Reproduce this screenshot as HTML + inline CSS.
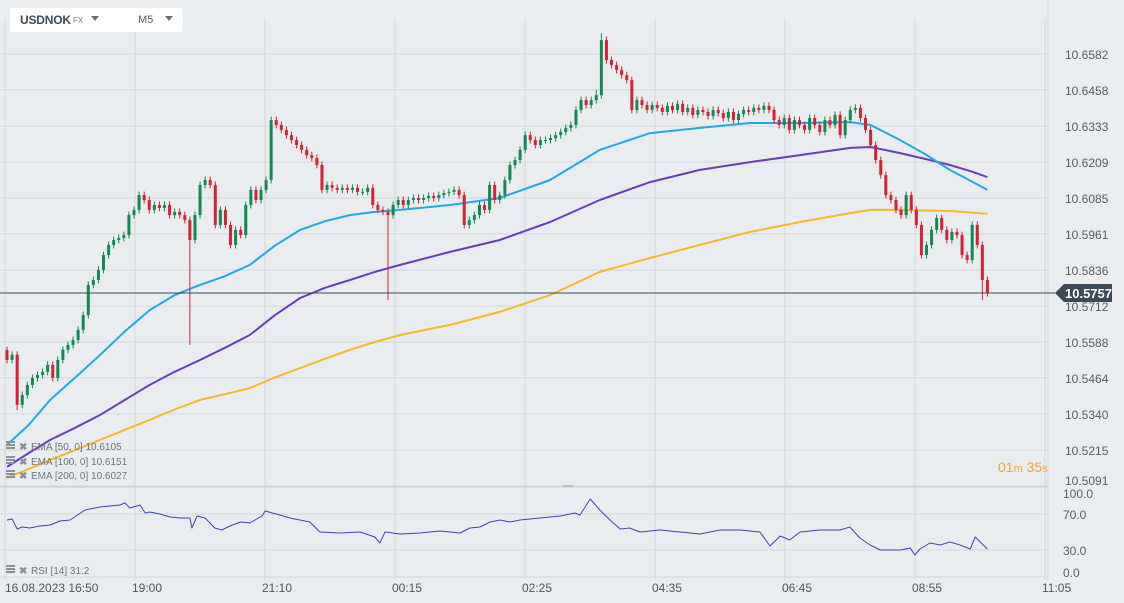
<!DOCTYPE html>
<html><head><meta charset="utf-8"><style>
body{margin:0;background:#eaedf0;font-family:"Liberation Sans",sans-serif;}
#wrap{position:relative;width:1124px;height:603px;overflow:hidden;background:#eaedf0}
svg text{font-family:"Liberation Sans",sans-serif}
</style></head><body>
<div id="wrap">
<svg id="chart" width="1124" height="603"></svg>
<div style="position:absolute;left:10px;top:8px;width:173px;height:24px;background:#fff;border-radius:3px;">
 <span style="position:absolute;left:10px;top:5px;font-weight:bold;font-size:12px;letter-spacing:-0.2px;color:#3e4a55">USDNOK</span>
 <span style="position:absolute;left:63px;top:8px;font-size:8px;color:#7a838c">FX</span>
 <span style="position:absolute;left:81px;top:8px;width:0;height:0;border-left:4px solid transparent;border-right:4px solid transparent;border-top:5px solid #6b747c"></span>
 <span style="position:absolute;left:128px;top:6px;font-size:11px;color:#5b6570">M5</span>
 <span style="position:absolute;left:155px;top:8px;width:0;height:0;border-left:4px solid transparent;border-right:4px solid transparent;border-top:5px solid #6b747c"></span>
</div>
</div>
<script>
const closes=[10.5526,10.5544,10.5371,10.5405,10.5440,10.5464,10.5474,10.5485,10.5509,10.5464,
10.5526,10.5561,10.5578,10.5595,10.5630,10.5681,10.5785,10.5802,10.5837,10.5888,
10.5923,10.5940,10.5947,10.5957,10.6026,10.6044,10.6095,10.6078,10.6044,10.6061,
10.6051,10.6061,10.6026,10.6037,10.6026,10.6009,10.5940,10.6026,10.6130,10.6147,
10.6130,10.5992,10.6044,10.5992,10.5923,10.5975,10.5957,10.6061,10.6113,10.6078,
10.6113,10.6147,10.6354,10.6337,10.6320,10.6302,10.6285,10.6268,10.6251,10.6233,
10.6223,10.6199,10.6113,10.6130,10.6120,10.6113,10.6120,10.6113,10.6120,10.6106,
10.6106,10.6120,10.6061,10.6044,10.6037,10.6026,10.6061,10.6078,10.6061,10.6078,
10.6085,10.6078,10.6085,10.6092,10.6085,10.6095,10.6102,10.6106,10.6113,10.6095,
10.5992,10.6009,10.6026,10.6061,10.6044,10.6130,10.6078,10.6095,10.6147,10.6199,
10.6216,10.6251,10.6302,10.6285,10.6268,10.6285,10.6285,10.6292,10.6302,10.6313,
10.6327,10.6337,10.6389,10.6423,10.6406,10.6423,10.6440,10.6630,10.6561,10.6544,
10.6527,10.6509,10.6492,10.6389,10.6423,10.6406,10.6389,10.6406,10.6396,10.6382,
10.6403,10.6389,10.6410,10.6382,10.6396,10.6372,10.6389,10.6382,10.6368,10.6389,
10.6378,10.6361,10.6382,10.6354,10.6375,10.6389,10.6382,10.6396,10.6389,10.6403,
10.6389,10.6354,10.6337,10.6361,10.6320,10.6354,10.6337,10.6320,10.6361,10.6337,
10.6313,10.6354,10.6337,10.6372,10.6302,10.6354,10.6389,10.6396,10.6361,10.6320,
10.6268,10.6216,10.6164,10.6095,10.6078,10.6044,10.6026,10.6095,10.6044,10.5992,
10.5888,10.5923,10.5975,10.6016,10.5975,10.5940,10.5968,10.5957,10.5888,10.5871,
10.5992,10.5923,10.5802,10.5757];
const firstOpen=10.5560;
const wickPad=0.0012;
const specialLowIdx=[2,36,75,192];
const specialLowVal=[10.5353,10.5578,10.5733,10.5733];
const specialHighIdx=[116,117];
const specialHighVal=[10.6458,10.6654];
const emaIdx=[0,4.3,8.5,13.4,18.3,23.2,28.1,33,38,42.9,47.8,52.7,57.7,62.6,67.5,72.4,77.4,87.2,97,106.9,116.7,126.6,136.4,146.3,156.1,166,170,175.8,180.7,185.6,189.6,193];
const ema50=[10.5233,10.5302,10.5388,10.5465,10.5543,10.5625,10.5698,10.5750,10.5785,10.5815,10.5854,10.5920,10.5975,10.6005,10.6026,10.6037,10.6044,10.6061,10.6085,10.6147,10.6251,10.6309,10.6327,10.6344,10.6344,10.6347,10.6337,10.6285,10.6237,10.6182,10.6145,10.6113];
const ema100=[10.5157,10.5205,10.5250,10.5292,10.5336,10.5388,10.5440,10.5485,10.5526,10.5568,10.5612,10.5680,10.5740,10.5775,10.5802,10.5830,10.5854,10.5899,10.5940,10.6002,10.6078,10.6140,10.6182,10.6209,10.6233,10.6258,10.6261,10.6240,10.6220,10.6199,10.6178,10.6157];
const ema200=[10.5119,10.5150,10.5181,10.5215,10.5250,10.5285,10.5319,10.5355,10.5388,10.5408,10.5429,10.5465,10.5498,10.5530,10.5561,10.5588,10.5612,10.5647,10.5692,10.5750,10.5830,10.5878,10.5923,10.5968,10.6002,10.6033,10.6044,10.6044,10.6042,10.6040,10.6035,10.6030];
const rsiIdx=[0,1,2,3,4.5,6.5,8.5,10.4,12.4,15.4,18.3,22.2,23.2,24.2,26.2,27.2,28.1,30.1,32.1,34.1,36,36.4,37.4,39,40.9,42.3,43.9,45.9,47.8,50.2,50.8,53.7,55.7,57.7,59.6,61.6,65.6,69.5,72.4,73.4,74.4,77.4,81.3,85.2,89.2,91.1,93.1,95.1,97,99,101,104.9,108.9,111.8,112.8,114.8,116.7,118.7,120.7,122.6,124.6,128.5,132.5,136.4,140.4,144.3,148.2,150.2,152.2,154.1,156.1,160,164,165.9,167.9,169.9,171.9,173.8,175.8,177.8,178.7,179.7,181.7,183.7,185.6,187.6,189.6,190.6,193];
const rsiVal=[63.3,64.4,53.3,55.6,54.4,56.7,57.8,62.2,63.3,74.4,77.8,80,82.2,76.7,80,71.1,72.2,70,66.7,65.6,65.6,54.4,67.8,65.6,54.4,52.2,56.7,61.1,60,67.8,73.3,68.9,65.6,63.3,61.1,50,48.9,50,44.4,37.8,50,47.8,48.9,51.1,48.9,54.4,55.6,61.1,63.3,61.1,63.3,65.6,67.8,71.1,68.9,86.7,74.4,63.3,53.3,54.4,50,52.2,50,47.8,52.2,52.2,50,34.4,45.6,41.1,50,52.2,52.2,55.6,43.3,35.6,30,30,30,32.2,24.4,31.1,37.8,35.6,38.9,35.6,31.1,44.4,31.1];
const priceTicks=[10.6582,10.6458,10.6333,10.6209,10.6085,10.5961,10.5836,10.5712,10.5588,10.5464,10.5340,10.5215,10.5091];
const rsiTicks=[100,70,30,0];
const rsiTickLabels=["100.0","70.0","30.0","0.0"];
const timeLabels=["16.08.2023  16:50","19:00","21:10","00:15","02:25","04:35","06:45","08:55","11:05"];
const lastPrice=10.5757;
const rsiLast=31.2;

const NS="http://www.w3.org/2000/svg";
const svg=document.getElementById('chart');
function el(t,a,p){const e=document.createElementNS(NS,t);for(const k in a)e.setAttribute(k,a[k]);(p||svg).appendChild(e);return e;}
const yP=p=>54+(10.6582-p)/0.012425*36;
const xI=i=>7+i*5.08;
const yR=v=>577-v*0.9;
for(let k=0;k<9;k++){const g=el('line',{x1:5+k*130,x2:5+k*130,y1:18,y2:580,stroke:'#d3d7db','stroke-width':1});

}
priceTicks.forEach((p,k)=>{const y=yP(p);const g=el('line',{x1:0,x2:1048,y1:y,y2:y,stroke:'#d3d7db'});


const ty=k===priceTicks.length-1?485:y+5;
const t=el('text',{x:1065,y:ty,'font-size':12,fill:'#555e66'});t.textContent=p.toFixed(4);

});
const sep=el('line',{x1:0,x2:1048,y1:487,y2:487,stroke:'#c9cdd1'});


const ax=el('line',{x1:1048,x2:1048,y1:0,y2:580,stroke:'#d3d7db'});


const hnd=el('rect',{x:563,y:485,width:10,height:2,fill:'#b7bcc1'});


rsiTicks.forEach((v,k)=>{const y=yR(v);if(v>0&&v<100){const g=el('line',{x1:0,x2:1048,y1:y,y2:y,stroke:'#d3d7db'});

}
const t=el('text',{x:1063,y:k===0?498:(k===3?577:y+5),'font-size':12,fill:'#555e66'});t.textContent=rsiTickLabels[k];

});
const bot=el('line',{x1:0,x2:1048,y1:577,y2:577,stroke:'#d3d7db'});


timeLabels.forEach((s,k)=>{const t=el('text',{x:k===0?5:5+k*130-3,y:592,'font-size':12,fill:'#4d565e','xml:space':'preserve'});t.textContent=s;

});
function line(idx,vals,fy,color,w,name){let d='';idx.forEach((i,k)=>{d+=(k?'L':'M')+xI(i).toFixed(1)+','+fy(vals[k]).toFixed(1);});
const p=el('path',{d:d,fill:'none',stroke:color,'stroke-width':w,'stroke-linejoin':'round'});

}
line(emaIdx,ema200,yP,'#f7b82a',2,'ema-200-line');
line(emaIdx,ema100,yP,'#6a3dbf',2,'ema-100-line');
line(emaIdx,ema50,yP,'#1fa9e8',2,'ema-50-line');
closes.forEach((c,i)=>{const o=i?closes[i-1]:firstOpen;const up=c>=o;
let hi=Math.max(o,c)+wickPad,lo=Math.min(o,c)-wickPad;
const sl=specialLowIdx.indexOf(i);if(sl>=0)lo=specialLowVal[sl];
const sh=specialHighIdx.indexOf(i);if(sh>=0)hi=specialHighVal[sh];
const col=up?'#108a52':'#d62035';const x=xI(i);
const g=el('g',{});


el('line',{x1:x,x2:x,y1:yP(hi),y2:yP(lo),stroke:col,'stroke-width':1},g);
const y1=yP(Math.max(o,c)),y2=yP(Math.min(o,c));
el('rect',{x:x-1.5,y:y1,width:3,height:Math.max(1,y2-y1),fill:col},g);});
const ly=yP(lastPrice);
const lp=el('line',{x1:0,x2:1055,y1:ly,y2:ly,stroke:'#3b4a56','stroke-width':1});


const lb=el('path',{d:`M1055,${ly} L1064,${ly-9} L1112,${ly-9} L1112,${ly+9} L1064,${ly+9} Z`,fill:'#3b4a56'});


const lt=el('text',{x:1065,y:ly+5,'font-size':13,'font-weight':'bold',fill:'#fff'});lt.textContent=lastPrice.toFixed(4);


const tm=el('text',{x:998,y:472,'font-size':14,fill:'#f5a623'});tm.innerHTML='01<tspan font-size="11">m</tspan> 35<tspan font-size="11">s</tspan>';


line(rsiIdx,rsiVal,yR,'#3a47a8',1,'rsi-line');
const legs=[['EMA  [50,  0]  10.6105',448],['EMA  [100,  0]  10.6151',463],['EMA  [200,  0]  10.6027',477],['RSI  [14]  31.2',572]];
legs.forEach(l=>{const g=el('g',{});


el('rect',{x:6,y:l[1]-7,width:9,height:2,fill:'#8a9299'},g);el('rect',{x:6,y:l[1]-4,width:9,height:2,fill:'#8a9299'},g);el('rect',{x:6,y:l[1]-1,width:9,height:2,fill:'#8a9299'},g);
const x=el('text',{x:19,y:l[1]+2,'font-size':10,fill:'#8a9299','font-weight':'bold'},g);x.textContent='✖';
const t=el('text',{x:31,y:l[1]+2,'font-size':10,fill:'#6b747c','xml:space':'preserve'},g);t.textContent=l[0];});
</script>
</body></html>
